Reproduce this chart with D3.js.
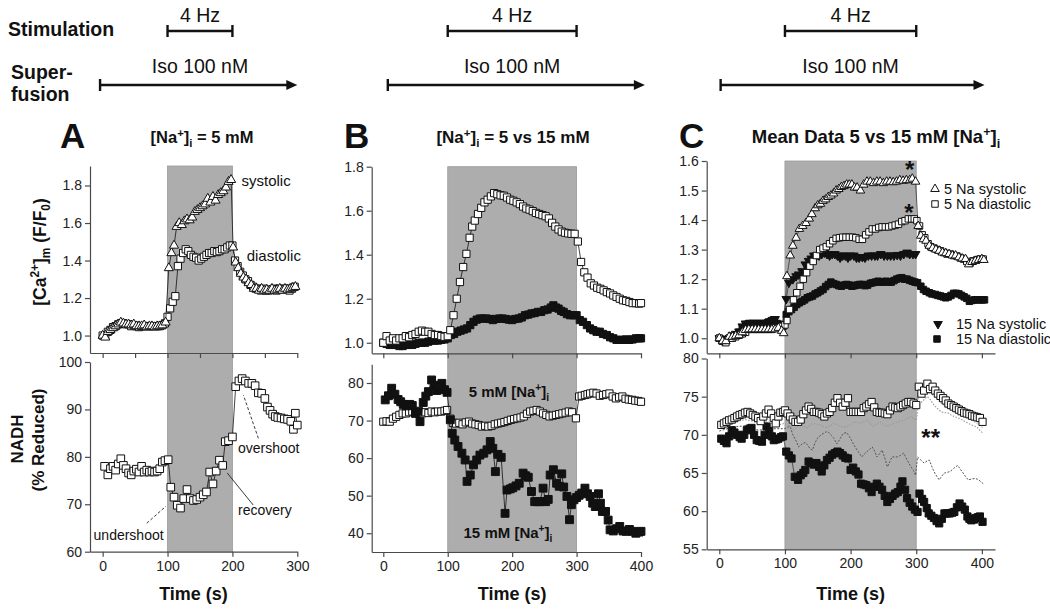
<!DOCTYPE html>
<html><head><meta charset="utf-8">
<script src="https://cdn.jsdelivr.net/npm/d3@7"></script>
<style>body{margin:0;background:#fff}</style>
</head><body><script>
// ---------------- DATA ----------------
// Panel A: [Ca2+]m (F/F0), time (s)
const aSystolic = [[0,1.00],[4,0.99],[8,1.02],[12,1.03],[16,1.04],[20,1.05],[24,1.06],[28,1.07],[32,1.065],[36,1.06],[40,1.06],[44,1.055],[48,1.06],[52,1.05],[56,1.05],[60,1.05],[64,1.055],[68,1.045],[72,1.05],[76,1.05],[80,1.045],[84,1.05],[88,1.05],[92,1.055],[97,1.07],[102,1.36],[106,1.44],[110,1.48],[114,1.58],[118,1.60],[122,1.59],[126,1.61],[130,1.62],[134,1.615],[138,1.63],[142,1.66],[146,1.67],[150,1.68],[154,1.69],[158,1.70],[162,1.73],[166,1.71],[170,1.74],[174,1.72],[178,1.75],[182,1.76],[186,1.77],[190,1.79],[194,1.82],[198,1.83],[201,1.47],[205,1.39],[209,1.36],[213,1.33],[217,1.31],[221,1.30],[225,1.28],[229,1.27],[233,1.25],[237,1.25],[241,1.24],[245,1.25],[249,1.24],[253,1.245],[257,1.24],[261,1.25],[265,1.24],[269,1.245],[273,1.25],[277,1.24],[281,1.25],[285,1.245],[289,1.25],[293,1.255],[297,1.26]];
const aDiastolic = [[0,1.00],[4,1.00],[8,1.02],[12,1.03],[16,1.045],[20,1.05],[24,1.06],[28,1.065],[32,1.065],[36,1.06],[40,1.06],[44,1.05],[48,1.055],[52,1.05],[56,1.045],[60,1.05],[64,1.05],[68,1.05],[72,1.05],[76,1.05],[80,1.05],[84,1.05],[88,1.05],[92,1.055],[96,1.065],[100,1.10],[104,1.145],[108,1.18],[112,1.21],[116,1.37],[120,1.41],[124,1.44],[128,1.46],[132,1.45],[136,1.43],[140,1.42],[144,1.415],[148,1.40],[152,1.41],[156,1.42],[160,1.43],[164,1.44],[168,1.44],[172,1.45],[176,1.445],[180,1.45],[184,1.46],[188,1.46],[192,1.47],[196,1.48],[200,1.48],[204,1.40],[208,1.37],[212,1.34],[216,1.32],[220,1.30],[224,1.29],[228,1.27],[232,1.26],[236,1.25],[240,1.25],[244,1.24],[248,1.25],[252,1.24],[256,1.24],[260,1.245],[264,1.25],[268,1.24],[272,1.25],[276,1.245],[280,1.25],[284,1.25],[288,1.24],[292,1.25],[296,1.26]];
// Panel A: NADH (% reduced)
const aNADH = [[3,78],[8,76.2],[12,77.5],[16,78],[20,77.2],[24,78.5],[28,79.6],[32,78.2],[36,77.5],[40,76.6],[44,76.2],[48,77],[52,77.4],[56,76.8],[60,78],[64,76.8],[68,77.2],[72,76.8],[76,77],[80,76.8],[84,77],[88,77.5],[92,78.9],[96,79.2],[101,79.4],[105,73.6],[110,71.5],[115,69.8],[120,69.2],[125,71.2],[130,73.1],[135,71.2],[140,70.8],[145,71],[150,71.5],[155,72],[160,72.6],[165,76.8],[170,74.3],[175,77],[180,79.3],[185,78.2],[189,83.2],[194,83.4],[200,84.2],[205,94.8],[210,96],[215,96.5],[220,96],[225,95.5],[230,95.5],[235,95],[240,93.5],[245,93.4],[250,92.3],[254,90.5],[258,89.8],[262,89],[266,88.5],[270,88.3],[275,88.2],[280,88],[285,87.9],[290,87.5],[294,85.8],[297,89.2],[300,86.7]];

// Panel B: [Ca2+]m
const b5Ca = [[0,1.00],[5,1.03],[10,1.01],[15,1.02],[20,1.01],[25,1.02],[30,1.02],[35,1.03],[40,1.025],[45,1.035],[50,1.04],[55,1.05],[60,1.055],[65,1.05],[70,1.05],[75,1.04],[80,1.035],[85,1.035],[90,1.03],[95,1.027],[100,1.03],[104,1.057],[109,1.125],[114,1.20],[119,1.276],[124,1.344],[129,1.404],[134,1.477],[138,1.528],[142,1.555],[147,1.585],[152,1.613],[157,1.638],[162,1.65],[167,1.665],[172,1.68],[177,1.675],[182,1.67],[187,1.668],[192,1.66],[197,1.65],[202,1.645],[207,1.638],[212,1.63],[217,1.619],[222,1.61],[227,1.605],[232,1.598],[237,1.59],[242,1.585],[247,1.58],[252,1.575],[257,1.565],[262,1.545],[267,1.528],[272,1.515],[277,1.505],[282,1.50],[287,1.497],[292,1.495],[297,1.495],[302,1.46],[307,1.367],[312,1.32],[317,1.296],[322,1.27],[327,1.26],[332,1.25],[337,1.245],[342,1.238],[347,1.23],[352,1.224],[357,1.215],[362,1.208],[367,1.20],[372,1.193],[377,1.19],[382,1.185],[387,1.18],[392,1.18],[397,1.178],[400,1.18]];
const b15Ca = [[0,1.00],[5,0.995],[10,0.99],[15,0.99],[20,0.99],[25,0.985],[30,0.985],[35,0.99],[40,0.99],[45,0.99],[50,0.995],[55,1.00],[60,1.00],[65,1.00],[70,1.005],[75,1.01],[80,1.01],[85,1.01],[90,1.013],[95,1.015],[100,1.02],[105,1.035],[110,1.04],[115,1.05],[120,1.055],[125,1.06],[130,1.065],[135,1.08],[140,1.095],[145,1.105],[150,1.11],[155,1.11],[160,1.11],[165,1.108],[170,1.103],[175,1.108],[180,1.11],[185,1.11],[190,1.108],[195,1.105],[200,1.103],[205,1.108],[210,1.11],[215,1.115],[220,1.125],[225,1.128],[230,1.133],[235,1.135],[240,1.14],[245,1.14],[250,1.148],[255,1.151],[260,1.16],[264,1.17],[268,1.16],[272,1.155],[276,1.145],[280,1.14],[285,1.13],[290,1.125],[295,1.125],[300,1.125],[305,1.103],[310,1.095],[316,1.08],[321,1.065],[326,1.057],[331,1.05],[336,1.05],[341,1.04],[347,1.035],[352,1.025],[357,1.02],[362,1.013],[367,1.013],[372,1.013],[377,1.015],[382,1.013],[387,1.015],[392,1.02],[397,1.02],[400,1.02]];
// Panel B: NADH
const b5NADH = [[0,69.7],[5,69.8],[10,69.7],[15,70.5],[20,71.0],[25,71.5],[30,71.9],[35,71.9],[40,72.2],[45,72.4],[50,72.0],[55,71.9],[60,71.9],[65,72.2],[70,72.0],[75,72.4],[80,72.2],[85,72.4],[90,72.4],[95,72.6],[99,72.8],[104,70.5],[108,69.4],[113,69.2],[118,69.4],[123,69.0],[128,69.5],[133,69.7],[138,69.2],[143,69.0],[148,68.8],[153,68.4],[158,68.6],[163,68.4],[168,68.6],[173,69.0],[178,69.2],[183,69.4],[188,69.6],[193,69.9],[198,70.2],[203,70.4],[208,70.6],[213,70.8],[218,71.1],[223,71.8],[228,72.4],[233,72.6],[238,72.8],[243,72.4],[248,71.9],[253,71.5],[258,71.1],[263,71.3],[268,71.5],[273,71.7],[278,71.9],[283,72.1],[288,72.4],[293,72.2],[299,70.6],[304,76.4],[308,76.6],[313,76.8],[317,77.0],[321,77.2],[326,77.4],[331,77.2],[336,76.6],[341,76.8],[346,77.0],[351,77.2],[356,76.4],[361,75.9],[366,76.2],[371,76.4],[376,75.8],[381,75.6],[386,75.5],[391,75.3],[396,75.2],[400,75.0]];
const b15NADH = [[3,75.5],[8,76.6],[13,78.6],[18,77.0],[23,75.6],[27,75.0],[31,74.3],[36,73.9],[41,74.3],[45,74.0],[50,71.9],[54,72.5],[57,69.7],[62,74.8],[66,76.5],[70,77.7],[75,80.8],[79,79.4],[83,78.0],[87,79.0],[91,79.9],[95,78.2],[99,77.5],[104,70.2],[107,66.6],[111,64.8],[116,63.1],[122,61.3],[127,59.5],[130,53.8],[135,55.5],[140,58.2],[145,59.5],[150,60.8],[156,61.3],[161,62.2],[166,64.4],[170,62.6],[174,56.4],[178,61.0],[183,60.2],[189,45.3],[192,51.5],[197,51.8],[201,52.1],[206,52.6],[211,53.3],[217,56.0],[221,55.3],[225,54.9],[230,51.1],[235,48.4],[240,48.4],[243,48.4],[248,52.0],[252,48.4],[256,49.0],[259,55.5],[264,56.9],[269,53.3],[273,52.5],[277,55.8],[280,52.3],[285,49.8],[289,43.6],[292,47.6],[296,48.9],[300,49.5],[304,50.1],[308,50.7],[313,52.0],[317,50.5],[321,49.8],[325,48.0],[329,47.1],[334,50.5],[337,48.0],[340,45.8],[345,45.8],[349,43.5],[352,40.9],[357,40.6],[362,41.2],[367,41.8],[372,40.6],[377,40.5],[382,41.0],[387,40.5],[392,40.0],[397,40.3],[400,40.5]];

// Panel C: mean [Ca2+]m
const c5Sys = [[0,1.00],[5,0.99],[10,0.99],[15,1.005],[20,1.005],[25,1.008],[30,1.01],[35,1.02],[40,1.028],[45,1.03],[50,1.03],[55,1.03],[60,1.03],[65,1.03],[70,1.03],[75,1.03],[80,1.03],[85,1.03],[90,1.035],[95,1.025],[98,1.017],[103,1.21],[108,1.28],[112,1.313],[117,1.34],[122,1.37],[127,1.38],[132,1.39],[137,1.405],[141,1.42],[146,1.44],[150,1.45],[154,1.455],[158,1.465],[162,1.47],[166,1.478],[170,1.483],[174,1.49],[178,1.50],[182,1.505],[186,1.512],[190,1.515],[194,1.52],[198,1.52],[202,1.52],[206,1.51],[210,1.51],[215,1.50],[220,1.52],[225,1.53],[230,1.53],[235,1.525],[240,1.53],[245,1.53],[250,1.525],[255,1.53],[260,1.53],[265,1.528],[270,1.53],[275,1.535],[280,1.533],[285,1.535],[290,1.535],[294,1.54],[299,1.53],[303,1.38],[307,1.347],[311,1.335],[315,1.33],[320,1.313],[325,1.305],[330,1.30],[335,1.296],[340,1.29],[345,1.288],[350,1.285],[355,1.28],[360,1.28],[365,1.274],[370,1.27],[375,1.268],[380,1.25],[385,1.258],[390,1.262],[395,1.265],[400,1.268],[403,1.265]];
const c5Dia = [[0,1.00],[5,0.99],[10,0.985],[15,1.00],[20,1.00],[25,1.005],[30,1.01],[35,1.015],[40,1.02],[45,1.03],[50,1.03],[55,1.03],[60,1.03],[65,1.03],[70,1.03],[75,1.03],[80,1.03],[85,1.035],[90,1.035],[95,1.04],[100,1.045],[103,1.06],[107,1.097],[113,1.13],[118,1.154],[123,1.176],[128,1.20],[133,1.222],[138,1.244],[143,1.26],[148,1.28],[153,1.30],[158,1.305],[163,1.31],[168,1.32],[173,1.33],[178,1.338],[183,1.34],[188,1.342],[193,1.342],[198,1.342],[203,1.342],[208,1.34],[213,1.335],[218,1.335],[223,1.35],[228,1.36],[233,1.37],[238,1.37],[243,1.375],[248,1.377],[253,1.377],[258,1.377],[263,1.38],[268,1.383],[273,1.386],[278,1.395],[283,1.398],[288,1.404],[293,1.404],[297,1.404],[301,1.398],[305,1.38],[309,1.35],[313,1.34],[318,1.32],[322,1.31],[327,1.305],[332,1.30],[337,1.296],[342,1.29],[347,1.285],[352,1.285],[357,1.28],[362,1.278],[367,1.272],[372,1.268],[377,1.26],[382,1.255],[387,1.262],[392,1.265],[397,1.268],[402,1.268]];
const c15Sys = [[0,1.00],[5,0.99],[10,0.995],[15,1.00],[20,1.01],[25,1.015],[30,1.023],[35,1.04],[40,1.05],[45,1.05],[50,1.05],[55,1.05],[60,1.05],[65,1.05],[70,1.05],[75,1.055],[80,1.06],[85,1.065],[90,1.05],[95,1.04],[102,1.133],[106,1.188],[112,1.20],[117,1.21],[121,1.216],[126,1.227],[131,1.25],[136,1.262],[140,1.27],[144,1.28],[148,1.28],[152,1.28],[156,1.285],[160,1.29],[164,1.285],[168,1.28],[172,1.285],[176,1.285],[180,1.28],[184,1.273],[188,1.28],[192,1.28],[196,1.273],[200,1.28],[205,1.28],[209,1.273],[213,1.273],[218,1.275],[222,1.273],[227,1.28],[232,1.28],[237,1.28],[241,1.28],[246,1.285],[251,1.28],[256,1.28],[261,1.28],[266,1.28],[271,1.282],[276,1.28],[281,1.285],[286,1.29],[290,1.285],[295,1.285],[299,1.285]];
const c15Dia = [[0,1.00],[5,0.99],[10,0.995],[15,1.00],[20,1.005],[25,1.01],[30,1.02],[35,1.03],[40,1.045],[45,1.05],[50,1.05],[55,1.05],[60,1.05],[65,1.05],[70,1.05],[75,1.055],[80,1.06],[83,1.062],[88,1.05],[93,1.045],[97,1.04],[102,1.08],[106,1.09],[110,1.097],[114,1.105],[118,1.114],[122,1.12],[126,1.125],[130,1.13],[134,1.137],[138,1.14],[142,1.143],[146,1.15],[150,1.154],[154,1.16],[158,1.165],[162,1.175],[166,1.182],[170,1.19],[174,1.185],[178,1.182],[182,1.178],[186,1.176],[190,1.18],[194,1.182],[198,1.18],[202,1.176],[206,1.178],[210,1.18],[214,1.182],[218,1.182],[222,1.178],[226,1.18],[230,1.186],[234,1.188],[238,1.19],[242,1.193],[246,1.19],[250,1.19],[254,1.193],[258,1.19],[262,1.19],[266,1.195],[270,1.20],[274,1.203],[278,1.205],[282,1.20],[286,1.20],[290,1.196],[294,1.193],[298,1.19],[302,1.188],[307,1.176],[311,1.165],[315,1.159],[320,1.154],[324,1.15],[329,1.148],[333,1.145],[337,1.143],[341,1.14],[345,1.137],[349,1.14],[353,1.145],[357,1.152],[361,1.152],[365,1.15],[369,1.145],[373,1.14],[377,1.135],[381,1.125],[385,1.128],[389,1.13],[393,1.13],[397,1.13],[401,1.13],[404,1.13]];
// Panel C: mean NADH
const c5NADH = [[3,71.3],[7,71.5],[11,71.7],[15,71.9],[19,72.0],[23,72.2],[27,72.4],[31,72.6],[35,72.7],[39,72.9],[43,73.0],[47,72.8],[51,72.6],[55,72.4],[59,72.2],[63,71.8],[67,72.4],[71,72.8],[75,73.3],[79,72.8],[83,72.2],[86,71.5],[90,72.4],[93,72.9],[97,73.0],[100,73.2],[104,72.8],[108,72.4],[112,72.0],[116,71.7],[120,71.7],[124,72.0],[128,72.7],[132,73.2],[136,73.7],[140,73.4],[144,73.0],[148,73.0],[152,72.9],[156,72.7],[160,72.4],[164,72.8],[168,73.0],[172,73.5],[176,74.2],[180,74.8],[184,74.2],[188,73.7],[192,74.2],[196,74.8],[200,73.0],[204,73.0],[208,73.0],[212,73.0],[216,73.0],[220,73.5],[224,73.7],[228,74.0],[232,74.3],[236,73.6],[240,73.0],[244,72.9],[248,72.9],[252,72.8],[256,72.7],[260,73.2],[264,73.7],[268,73.6],[272,73.5],[276,73.7],[280,73.9],[284,74.1],[288,74.3],[292,74.3],[296,74.1],[300,73.9],[304,76.3],[308,75.4],[312,75.8],[317,76.7],[321,76.0],[325,76.3],[329,75.8],[333,75.4],[337,75.1],[341,74.8],[345,74.5],[349,74.1],[353,73.9],[357,73.7],[361,73.5],[365,73.3],[369,73.1],[373,72.9],[377,72.8],[381,72.7],[385,72.5],[389,72.4],[393,72.3],[397,72.2],[401,71.7]];
const c15NADH = [[3,69.5],[7,69.2],[11,68.9],[15,69.8],[19,70.6],[23,70.3],[27,70.0],[31,69.7],[34,69.5],[38,70.0],[42,70.6],[46,70.8],[49,70.9],[53,70.0],[57,69.3],[61,69.2],[65,69.1],[69,70.0],[72,71.1],[76,70.5],[80,69.8],[83,69.3],[87,69.4],[90,69.5],[94,69.7],[97,69.8],[102,67.8],[106,67.3],[110,66.9],[115,64.5],[120,64.1],[124,64.7],[128,65.0],[131,65.4],[136,66.5],[140,66.3],[144,66.1],[148,66.3],[152,65.8],[156,65.2],[160,66.0],[164,66.7],[168,67.0],[172,67.4],[176,67.6],[180,67.8],[184,67.6],[188,67.3],[192,67.0],[196,66.9],[200,65.4],[204,65.7],[208,65.2],[212,64.8],[216,63.6],[220,63.5],[224,63.4],[228,63.0],[232,62.5],[236,63.2],[240,63.6],[244,63.2],[248,62.8],[252,62.0],[256,61.2],[260,61.6],[264,62.0],[268,62.3],[272,62.5],[276,63.2],[279,63.9],[283,62.8],[286,61.7],[290,61.1],[294,60.6],[298,60.2],[302,59.9],[305,62.3],[309,61.6],[312,61.2],[316,60.4],[319,59.7],[323,59.4],[327,59.1],[331,58.7],[335,58.4],[339,59.0],[343,59.7],[347,59.7],[351,59.7],[355,59.8],[358,59.9],[362,60.5],[366,61.0],[370,60.6],[374,60.2],[378,59.3],[381,59.0],[384,58.8],[388,58.9],[391,59.1],[394,59.2],[397,59.3],[401,58.6]];
const cSemLow5 = [[0,71.0],[10,71.2],[20,71.5],[30,71.8],[40,72.0],[50,71.8],[60,71.5],[70,71.8],[80,71.5],[90,71.3],[100,71.5],[104,71.3],[108,71.1],[113,70.7],[118,71.0],[123,71.5],[128,71.2],[133,70.9],[138,71.2],[143,71.5],[148,71.4],[154,71.3],[159,71.1],[164,70.9],[169,71.2],[175,71.5],[180,71.3],[185,71.1],[190,71.0],[195,71.1],[200,71.4],[205,71.7],[210,71.6],[215,71.5],[220,71.7],[225,71.9],[230,71.5],[235,71.1],[240,71.5],[245,71.7],[250,71.4],[255,71.1],[261,71.3],[266,71.5],[271,71.7],[276,71.8],[281,71.9],[286,72.1],[292,72.4],[296,72.1],[300,71.9],[303,73.7],[307,74.2],[312,74.6],[316,75.0],[320,74.8],[327,73.9],[333,73.4],[338,73.0],[343,72.9],[348,72.9],[353,72.6],[358,72.4],[364,72.2],[371,71.9],[377,71.6],[384,71.3],[390,71.1],[394,70.9],[398,70.5],[402,70.2]];
const cSemLow5b = [[300,73.9],[304,74.8],[309,75.3],[314,75.7],[319,75.5],[324,75.3],[330,74.8],[336,74.3],[342,73.9],[348,73.7],[354,73.4],[360,73.3],[366,73.0],[372,72.6],[378,72.2],[384,71.9],[390,71.6],[396,71.3],[402,70.9]];
const cSemHigh15 = [[0,70.5],[20,71.0],[40,71.2],[60,70.6],[80,70.8],[100,70.8],[104,71.0],[108,71.1],[112,70.0],[117,69.2],[121,68.4],[126,68.8],[131,69.0],[135,68.6],[138,68.2],[142,68.0],[146,69.0],[150,69.6],[155,70.0],[159,70.2],[163,70.4],[167,70.3],[171,69.9],[175,69.5],[179,68.8],[184,69.5],[189,70.2],[194,70.3],[198,69.8],[203,69.0],[207,68.4],[210,68.0],[214,67.5],[217,67.1],[221,67.5],[225,67.8],[229,68.1],[233,68.4],[237,67.8],[240,67.1],[244,67.5],[248,68.0],[252,67.0],[256,65.8],[260,66.5],[263,67.1],[267,67.1],[271,67.1],[276,67.3],[281,67.6],[286,66.7],[292,65.8],[296,65.3],[299,64.7],[302,67.1],[307,66.7],[312,66.3],[317,66.6],[320,66.7],[324,65.8],[327,65.2],[331,64.6],[335,64.1],[339,64.6],[343,65.0],[348,65.1],[352,65.2],[357,65.6],[363,66.0],[368,65.4],[373,64.8],[379,64.1],[384,64.2],[390,64.3],[395,64.1],[402,63.6]];

// protocol windows (s)
const stimA = [100,200], stimB = [100,300], stimC = [100,300];
const isoA = [-4,300], isoB = [7,406], isoC = [2,404];

// ticks
const ticksA1x = [0,50,100,150,200,250,300], ticksA2x = [0,100,200,300];
const ticksBx = [0,100,200,300,400], ticksCx = [0,100,200,300,400];
const ticksA1y = [1.0,1.2,1.4,1.6,1.8], ticksA2y = [60,70,80,90,100];
const ticksB1y = [1.0,1.2,1.4,1.6,1.8], ticksB2y = [40,50,60,70,80];
const ticksC1y = [1.0,1.1,1.2,1.3,1.4,1.5,1.6], ticksC2y = [55,60,65,70,75,80];

// ---------------- DRAW ----------------
const FONT = "'Liberation Sans', Arial, Helvetica, sans-serif";
const svg = d3.select("body").append("svg").attr("width",1050).attr("height",612)
  .style("font-family", FONT);

const xA = d3.scaleLinear().domain([-19.5,300]).range([90,297.3]);
const yA1 = d3.scaleLinear().domain([0.907,1.904]).range([353,166]);
const yA2 = d3.scaleLinear().domain([60,100]).range([551.7,362]);
const xB = d3.scaleLinear().domain([-18,400]).range([371.7,641]);
const yB1 = d3.scaleLinear().domain([0.952,1.8]).range([353.3,166.7]);
const yB2 = d3.scaleLinear().domain([35,85]).range([552,364.2]);
const xC = d3.scaleLinear().domain([-19.2,420]).range([706.7,995]);
const yC1 = d3.scaleLinear().domain([0.949,1.6]).range([353.3,161]);
const yC2 = d3.scaleLinear().domain([55,80]).range([549.3,358.5]);

const AX = "#4a4a4a";
function shade(x, y1, y2, win){
  svg.append("rect").attr("x",x(win[0])).attr("width",x(win[1])-x(win[0]))
    .attr("y",y1.range()[1]).attr("height",y2.range()[0]-y1.range()[1])
    .attr("fill","#adadad").attr("stroke","#9a9a9a").attr("stroke-width",0.8);
}
function style(g){
  g.attr("font-family",FONT).attr("font-size",14);
  g.select(".domain").attr("stroke",AX).attr("stroke-width",1.2);
  g.selectAll(".tick line").attr("stroke",AX).attr("stroke-width",1.2);
  g.selectAll(".tick text").attr("fill","#222");
}
function yAxis(x, y, ticks, fmt){
  const g = svg.append("g").attr("transform",`translate(${x.range()[0]},0)`)
    .call(d3.axisLeft(y).tickValues(ticks).tickFormat(fmt).tickSize(5).tickSizeOuter(0).tickPadding(3));
  style(g);
}
function xAxis(x, y, ticks, labels){
  const g = svg.append("g").attr("transform",`translate(0,${y.range()[0]})`)
    .call(d3.axisBottom(x).tickValues(ticks).tickFormat(labels? d3.format("d") : "").tickSize(5).tickSizeOuter(0).tickPadding(4));
  style(g);
}
function series(x, y, data, opt){
  if (opt.line !== false){
    svg.append("path").datum(data).attr("fill","none").attr("stroke","#111").attr("stroke-width",opt.lw||0.8)
      .attr("d", d3.line().x(d=>x(d[0])).y(d=>y(d[1])));
  }
  const sym = d3.symbol().type(opt.type).size(opt.size);
  svg.append("g").selectAll("path").data(data).join("path")
    .attr("d", sym)
    .attr("transform", d=>`translate(${x(d[0])},${y(d[1])})${opt.down?" rotate(180)":""}`)
    .attr("fill", opt.fill).attr("stroke","#111").attr("stroke-width",1);
}
function greyLine(x, y, data, color, dash, w){
  svg.append("path").datum(data).attr("fill","none").attr("stroke",color).attr("stroke-width",w)
    .attr("stroke-dasharray",dash).attr("d", d3.line().x(d=>x(d[0])).y(d=>y(d[1])));
}
function rich(parent, segs, fs, attrs){
  const t = parent.append("text").attr("font-size",fs);
  Object.entries(attrs||{}).forEach(([k,v])=>t.attr(k,v));
  let shift = 0;
  segs.forEach(s=>{
    const target = s.sup ? -fs*0.38 : s.sub ? fs*0.25 : 0;
    const sp = t.append("tspan").text(s.t).attr("dy", target-shift);
    if (s.sup || s.sub) sp.attr("font-size", fs*0.68);
    shift = target;
  });
  return t;
}

// shading
shade(xA, yA1, yA2, stimA);
shade(xB, yB1, yB2, stimB);
shade(xC, yC1, yC2, stimC);

// axes
const f1 = d3.format(".1f"), f0 = d3.format("d");
yAxis(xA, yA1, ticksA1y, f1); yAxis(xA, yA2, ticksA2y, f0);
xAxis(xA, yA1, ticksA1x, false); xAxis(xA, yA2, ticksA2x, true);
yAxis(xB, yB1, ticksB1y, f1); yAxis(xB, yB2, ticksB2y, f0);
xAxis(xB, yB1, ticksBx, false); xAxis(xB, yB2, ticksBx, true);
yAxis(xC, yC1, ticksC1y, f1); yAxis(xC, yC2, ticksC2y, f0);
xAxis(xC, yC1, ticksCx, false); xAxis(xC, yC2, ticksCx, true);

// Panel A data
series(xA, yA1, aDiastolic, {type:d3.symbolSquare, size:52, fill:"#fff"});
series(xA, yA1, aSystolic, {type:d3.symbolTriangle, size:36, fill:"#fff"});
series(xA, yA2, aNADH, {type:d3.symbolSquare, size:58, fill:"#fff"});
// Panel B data
series(xB, yB1, b15Ca, {type:d3.symbolSquare, size:52, fill:"#111"});
series(xB, yB1, b5Ca, {type:d3.symbolSquare, size:52, fill:"#fff"});
series(xB, yB2, b5NADH, {type:d3.symbolSquare, size:52, fill:"#fff"});
series(xB, yB2, b15NADH, {type:d3.symbolSquare, size:62, fill:"#111"});
// Panel C data
series(xC, yC1, c15Dia, {type:d3.symbolSquare, size:42, fill:"#111", lw:0.6});
series(xC, yC1, c15Sys, {type:d3.symbolTriangle, size:32, fill:"#111", down:true, lw:0.6});
series(xC, yC1, c5Dia, {type:d3.symbolSquare, size:42, fill:"#fff", lw:0.6});
series(xC, yC1, c5Sys, {type:d3.symbolTriangle, size:32, fill:"#fff", lw:0.6});
greyLine(xC, yC2, cSemHigh15, "#555", "2,1.5", 1);
series(xC, yC2, c15NADH, {type:d3.symbolSquare, size:52, fill:"#111", lw:0.6});
greyLine(xC, yC2, cSemLow5, "#9a9a9a", "1.5,1.5", 1.1);
greyLine(xC, yC2, cSemLow5b, "#b5b5b5", "1.5,1.5", 1.1);
series(xC, yC2, c5NADH, {type:d3.symbolSquare, size:52, fill:"#fff", lw:0.6});

// ---------- header protocol ----------
function stimBar(x, win){
  const y = 31, x0 = x(win[0]), x1 = x(win[1]);
  svg.append("line").attr("x1",x0).attr("x2",x1).attr("y1",y).attr("y2",y).attr("stroke","#111").attr("stroke-width",2.4);
  [x0,x1].forEach(v=>svg.append("line").attr("x1",v).attr("x2",v).attr("y1",y-6).attr("y2",y+6).attr("stroke","#111").attr("stroke-width",2.4));
  svg.append("text").attr("x",(x0+x1)/2).attr("y",22).attr("text-anchor","middle").attr("font-size",19.5).attr("fill","#111").text("4 Hz");
  return (x0+x1)/2;
}
function isoArrow(x, win, cx){
  const y = 85, x0 = x(win[0]), x1 = x(win[1]);
  svg.append("line").attr("x1",x0).attr("x2",x1-8).attr("y1",y).attr("y2",y).attr("stroke","#111").attr("stroke-width",2.4);
  svg.append("line").attr("x1",x0).attr("x2",x0).attr("y1",y-6).attr("y2",y+6).attr("stroke","#111").attr("stroke-width",2.4);
  svg.append("path").attr("d",`M${x1},${y} L${x1-11},${y-5} L${x1-11},${y+5} Z`).attr("fill","#111");
  svg.append("text").attr("x",cx).attr("y",73).attr("text-anchor","middle").attr("font-size",19.5).attr("fill","#111").text("Iso 100 nM");
}
isoArrow(xA, isoA, stimBar(xA, stimA));
isoArrow(xB, isoB, stimBar(xB, stimB));
isoArrow(xC, isoC, stimBar(xC, stimC));

svg.append("text").attr("x",8).attr("y",36).attr("font-size",19.5).attr("font-weight","bold").attr("fill","#111").text("Stimulation");
svg.append("text").attr("x",11).attr("y",79).attr("font-size",19.5).attr("font-weight","bold").attr("fill","#111").text("Super-");
svg.append("text").attr("x",11).attr("y",101).attr("font-size",19.5).attr("font-weight","bold").attr("fill","#111").text("fusion");

// panel letters & titles
[["A",60],["B",344],["C",679]].forEach(([l,x])=>svg.append("text").attr("x",x).attr("y",148).attr("font-size",35).attr("font-weight","bold").attr("fill","#111").text(l));
const tb = {"text-anchor":"middle","font-weight":"bold","fill":"#111","y":143};
rich(svg, [{t:"[Na"},{t:"+",sup:true},{t:"]"},{t:"i",sub:true},{t:" = 5 mM"}], 16.5, {...tb, x:202});
rich(svg, [{t:"[Na"},{t:"+",sup:true},{t:"]"},{t:"i",sub:true},{t:" = 5 vs 15 mM"}], 17, {...tb, x:513});
rich(svg, [{t:"Mean Data 5 vs 15 mM [Na"},{t:"+",sup:true},{t:"]"},{t:"i",sub:true}], 18.5, {...tb, x:876});

// y-axis titles
rich(svg, [{t:"[Ca"},{t:"2+",sup:true},{t:"]"},{t:"m",sub:true},{t:" (F/F"},{t:"0",sub:true},{t:")"}], 17.5,
  {"text-anchor":"middle","font-weight":"bold","fill":"#111","transform":"translate(46,252) rotate(-90)"});
svg.append("text").attr("transform","translate(23,439) rotate(-90)").attr("text-anchor","middle").attr("font-size",17).attr("font-weight","bold").attr("fill","#111").text("NADH");
svg.append("text").attr("transform","translate(44,440) rotate(-90)").attr("text-anchor","middle").attr("font-size",17).attr("font-weight","bold").attr("fill","#111").text("(% Reduced)");

// x-axis titles (centre time for each panel)
const timeTitleCentre = [[xA,140],[xB,200],[xC,200]];
timeTitleCentre.forEach(([x,tm])=>{
  svg.append("text").attr("x",x(tm)).attr("y",600).attr("text-anchor","middle").attr("font-size",18).attr("font-weight","bold").attr("fill","#111").text("Time (s)");
});

// Panel A annotations
const ann = (x,y,txt,anchor,fs)=>svg.append("text").attr("x",x).attr("y",y).attr("text-anchor",anchor||"start").attr("font-size",fs||14).attr("fill","#111").text(txt);
ann(xA(214), yA1(1.797), "systolic", "start", 15);
ann(xA(222), yA1(1.40), "diastolic", "start", 15);
ann(xA(40), yA2(62.5), "undershoot", "middle", 14);
ann(xA(208.6), yA2(67.7), "recovery", "start", 14);
ann(xA(208.6), yA2(80.9), "overshoot", "start", 14);
const lead = (p0,p1,dash)=>svg.append("line").attr("x1",xA(p0[0])).attr("y1",yA2(p0[1])).attr("x2",xA(p1[0])).attr("y2",yA2(p1[1]))
  .attr("stroke","#222").attr("stroke-width",0.9).attr("stroke-dasharray",dash);
lead([68,66.0],[97.6,69.6],"3,2");
lead([232,69.85],[192,76.6],null);
lead([240,83.9],[217,93.0],"3,2");

// Panel B labels
rich(svg, [{t:"5 mM [Na"},{t:"+",sup:true},{t:"]"},{t:"i",sub:true}], 15, {"text-anchor":"middle","font-weight":"bold","fill":"#111", x:xB(195), y:yB2(76.3)});
rich(svg, [{t:"15 mM [Na"},{t:"+",sup:true},{t:"]"},{t:"i",sub:true}], 15, {"text-anchor":"middle","font-weight":"bold","fill":"#111", x:xB(193.5), y:yB2(38.75)});

// Panel C legend
const legend = [
  {lab:"5 Na systolic", type:d3.symbolTriangle, size:32, fill:"#fff", down:false, y:189, mx:935, tx:944},
  {lab:"5 Na diastolic", type:d3.symbolSquare, size:42, fill:"#fff", down:false, y:204, mx:935, tx:944},
  {lab:"15 Na systolic", type:d3.symbolTriangle, size:32, fill:"#111", down:true, y:324, mx:938, tx:956},
  {lab:"15 Na diastolic", type:d3.symbolSquare, size:42, fill:"#111", down:false, y:339, mx:937, tx:956}
];
legend.forEach(d=>{
  svg.append("path").attr("d", d3.symbol().type(d.type).size(d.size)).attr("transform",`translate(${d.mx},${d.y})${d.down?" rotate(180)":""}`)
    .attr("fill",d.fill).attr("stroke","#111").attr("stroke-width",1);
  svg.append("text").attr("x",d.tx).attr("y",d.y+5).attr("font-size",14.5).attr("fill","#111").text(d.lab);
});
// significance marks
svg.append("text").attr("x",xC(290)).attr("y",178).attr("text-anchor","middle").attr("font-size",24).attr("font-weight","bold").attr("fill","#111").text("*");
svg.append("text").attr("x",xC(289)).attr("y",221).attr("text-anchor","middle").attr("font-size",24).attr("font-weight","bold").attr("fill","#111").text("*");
svg.append("text").attr("x",xC(322)).attr("y",446).attr("text-anchor","middle").attr("font-size",24).attr("font-weight","bold").attr("fill","#111").text("**");
</script></body></html>
